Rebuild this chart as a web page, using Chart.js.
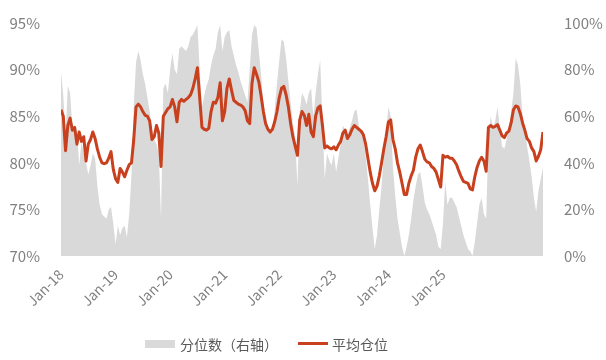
<!DOCTYPE html>
<html>
<head>
<meta charset="utf-8">
<script src="https://cdn.jsdelivr.net/npm/chart.js"></script>
<style>
    body { margin: 0; background: #fff; }
    #wrap { position: relative; width: 606px; height: 360px; }
    .lg { position: absolute; font: 14px 'Noto Sans CJK SC', 'Noto Sans', sans-serif; color: #595959; line-height: 16px; }
    .sw { position: absolute; }
</style>
</head>
<body>
<div id="wrap">
    <canvas id="myChart" width="606" height="360"></canvas>
    <div class="sw" style="left:145px;top:340px;width:30px;height:8px;background:#D9D9D9"></div>
    <div class="lg" style="left:180px;top:336px">分位数（右轴）</div>
    <div class="sw" style="left:298px;top:342px;width:30px;height:3px;background:#C8401E"></div>
    <div class="lg" style="left:332px;top:336px">平均仓位</div>
</div>
<script>
// half-month steps, starting Jan-18
const stepsPerYear = 24
const yearLabels = ['Jan-18', 'Jan-19', 'Jan-20', 'Jan-21', 'Jan-22', 'Jan-23', 'Jan-24', 'Jan-25']

// 平均仓位 (left axis, %)
const avgPosition = [
    85.7, 85.0, 81.3, 84.0, 84.8, 83.5, 83.8, 82.0, 83.3, 82.3,
    82.8, 80.2, 82.0, 82.5, 83.3, 82.6, 81.5, 80.6, 80.0, 79.9,
    80.0, 80.5, 81.2, 79.3, 78.3, 77.9, 79.4, 79.0, 78.5, 79.2,
    79.8, 80.0, 82.5, 86.0, 86.3, 86.0, 85.5, 85.1, 85.0, 84.5,
    82.5, 82.8, 84.0, 83.2, 79.6, 85.0, 85.4, 85.8, 86.0, 86.8,
    86.0, 84.4, 86.5, 86.8, 86.6, 86.8, 87.0, 87.3, 88.0, 89.0,
    90.2, 87.0, 83.8, 83.6, 83.5, 83.7, 85.5, 86.5, 86.4, 87.0,
    88.6, 84.5, 85.5, 88.0, 89.0, 87.8, 86.7, 86.5, 86.3, 86.2,
    86.0, 85.6, 84.5, 84.2, 88.5, 90.2, 89.5, 88.7, 87.2, 85.5,
    84.2, 83.6, 83.3, 83.6, 84.4, 85.5, 87.0, 88.0, 88.2, 87.3,
    86.0, 84.2, 82.8, 81.8, 80.8, 84.6, 85.5, 85.1, 84.0, 85.2,
    83.3, 82.8, 85.0, 85.9, 86.1, 84.0, 81.6, 81.8, 81.6, 81.5,
    81.7, 81.4, 81.9, 82.3, 83.2, 83.5, 82.6, 83.0, 83.6, 84.0,
    83.8, 83.6, 83.4, 83.0, 82.0, 80.5, 79.0, 77.8, 77.0, 77.5,
    78.6, 80.0, 81.5, 82.8, 84.4, 84.6, 82.5, 81.5, 80.0, 79.0,
    77.8, 76.6, 76.6, 77.8, 78.6, 79.2, 80.6, 81.5, 81.9, 81.2,
    80.4, 80.1, 80.0, 79.6, 79.4, 79.0, 78.2, 77.4, 80.8, 80.6,
    80.7, 80.5, 80.5, 80.2, 79.8, 79.1, 78.5, 78.0, 77.9, 77.8,
    77.2, 77.1, 78.5, 79.5, 80.2, 80.6, 80.2, 79.1, 83.8, 84.0,
    83.8, 83.9, 84.1, 83.5, 82.9, 82.7, 83.2, 83.4, 84.3, 85.7,
    86.1, 86.0, 85.3, 84.3, 83.5, 82.6, 82.3, 81.6, 81.2, 80.2,
    80.7, 81.4, 83.3
]

// 分位数 (right axis, %)
const percentile = [
    79, 69, 52, 73, 70, 55, 52, 55, 39, 49,
    44, 40, 35, 39, 44, 42, 30, 22, 18, 17,
    16, 20, 21, 14, 5, 13, 9, 12, 13, 8,
    18, 35, 65, 83, 88, 84, 78, 74, 68, 62,
    55, 50, 48, 44, 16, 72, 74, 70, 80, 87,
    80, 78, 89, 90, 89, 88, 90, 94, 95, 97,
    99, 80, 64, 69, 73, 76, 82, 86, 89, 96,
    99, 88, 94, 96, 97, 90, 86, 82, 79, 75,
    72, 69, 66, 80, 95, 99, 98, 88, 78, 66,
    60, 55, 53, 53, 63, 74, 84, 93, 92, 85,
    75, 66, 57, 51, 30, 62, 70, 68, 65, 70,
    72, 60, 70, 78, 84, 58, 33, 44, 41, 39,
    44, 36, 42, 48, 56, 54, 52, 55, 58, 62,
    63, 56, 53, 50, 43, 33, 22, 12, 3, 9,
    20, 30, 44, 53, 64, 60, 38, 26, 16, 10,
    4, 0, 4, 9, 16, 24, 30, 35, 36, 30,
    23, 20, 18, 15, 12, 9, 4, 3, 14, 32,
    22, 25, 25, 23, 21, 17, 13, 9, 6, 3,
    2, 0, 6, 14, 22, 25, 18, 16, 50, 60,
    55, 58, 64, 55, 47, 46, 50, 55, 62, 70,
    85, 82, 74, 60, 55, 47, 41, 34, 25, 19,
    28, 33, 38
]

const fontFamily = "'Noto Sans CJK SC', 'Noto Sans', sans-serif"
const tickColor = '#808080'

const toPoints = (arr) => arr.map((v, i) => ({x: i / stepsPerYear, y: v}))

const ctx = document.getElementById('myChart')

new Chart(ctx, {
    type: 'line',
    data: {
        datasets: [{
            label: '平均仓位',
            data: toPoints(avgPosition),
            borderColor: '#C8401E',
            borderWidth: 3,
            borderJoinStyle: 'round',
            pointRadius: 0,
            tension: 0,
            yAxisID: 'y',
            order: 0
        }, {
            label: '分位数（右轴）',
            data: toPoints(percentile),
            backgroundColor: '#D9D9D9',
            borderWidth: 0,
            pointRadius: 0,
            tension: 0,
            fill: 'origin',
            yAxisID: 'y1',
            order: 1
        }]
    },
    options: {
        responsive: false,
        animation: false,
        layout: {padding: {top: 23, left: 0, right: 0, bottom: 0}},
        plugins: {
            legend: {display: false},
            tooltip: {enabled: false}
        },
        scales: {
            x: {
                type: 'linear',
                min: 0,
                max: (avgPosition.length - 1) / stepsPerYear,
                grid: {display: false},
                border: {display: false},
                afterBuildTicks: (scale) => {
                    scale.ticks = yearLabels.map((l, k) => ({value: k}))
                },
                afterFit: (scale) => {
                    scale.height = 104
                },
                ticks: {
                    callback: (v) => yearLabels[v],
                    minRotation: 45,
                    maxRotation: 45,
                    padding: 2,
                    color: tickColor,
                    font: {family: fontFamily, size: 14}
                }
            },
            y: {
                position: 'left',
                min: 70,
                max: 95,
                grid: {display: false},
                border: {display: false},
                afterFit: (scale) => {
                    scale.width = 61
                },
                ticks: {
                    stepSize: 5,
                    padding: 13,
                    callback: (v) => v + '%',
                    color: tickColor,
                    font: {family: fontFamily, size: 15}
                }
            },
            y1: {
                position: 'right',
                min: 0,
                max: 100,
                grid: {display: false},
                border: {display: false},
                afterFit: (scale) => {
                    scale.width = 63
                },
                ticks: {
                    stepSize: 20,
                    padding: 13,
                    callback: (v) => v + '%',
                    color: tickColor,
                    font: {family: fontFamily, size: 15}
                }
            }
        }
    }
})
</script>
</body>
</html>
